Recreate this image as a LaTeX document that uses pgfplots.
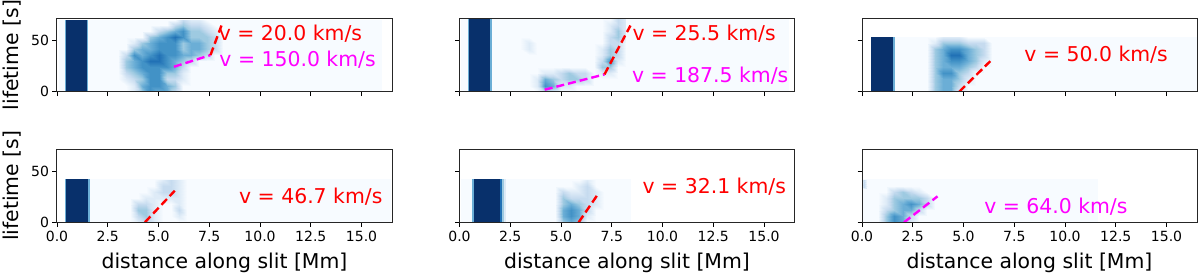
\documentclass[border=0pt]{standalone}
\usepackage{fontspec}
\setmainfont{DejaVu Sans}
\usepackage{pgfplots}
\pgfplotsset{compat=1.18}
\pgfplotsset{
  colormap={Blues}{rgb255(0)=(247,251,255) rgb255(1)=(222,235,247) rgb255(2)=(198,219,239) rgb255(3)=(158,202,225) rgb255(4)=(107,174,214) rgb255(5)=(66,146,198) rgb255(6)=(33,113,181) rgb255(7)=(8,81,156) rgb255(8)=(8,48,107)},
  pan/.style={
    scale only axis, width=335pt, height=73.3pt, anchor=south west,
    xmin=0, xmax=16.5, ymin=0, ymax=72, axis on top,
    xtick={0,2.5,5,7.5,10,12.5,15}, ytick={0,50}, tick pos=left, tick align=outside,
    major tick length=4.5pt, every tick/.style={black,line width=0.9pt},
    axis line style={line width=1pt,color=black!85},
    point meta min=0, point meta max=8,
    /pgf/number format/assume math mode=true,
    tick label style={font=\fontsize{14}{16}\selectfont},
    x tick label style={/pgf/number format/fixed,/pgf/number format/fixed zerofill,/pgf/number format/precision=1,yshift=-1pt},
    y tick label style={/pgf/number format/fixed},
    xlabel style={font=\fontsize{20.4}{23}\selectfont,at={(axis description cs:0.5,-0.56)},anchor=center},
    ylabel style={font=\fontsize{20.4}{23}\selectfont,at={(axis description cs:-0.134,0.5)},anchor=center},
  },
  hm/.style={surf,shader=interp,point meta=explicit,forget plot},
  hb/.style={surf,shader=flat mean,draw=none,point meta=explicit,forget plot},
  rl/.style={red,line width=2.4pt,dash pattern=on 8pt off 4pt,forget plot},
  ml/.style={magenta,line width=2.4pt,dash pattern=on 8pt off 4pt,forget plot},
}
\tikzset{vl/.style={font=\fontsize{20.4}{23}\selectfont,anchor=center}}
\definecolor{magenta}{RGB}{255,0,255}
\begin{document}
\begin{tikzpicture}[x=1pt,y=1pt]
\useasboundingbox (0,0) rectangle (1200,274);
% ---------- top left
\begin{axis}[pan,at={(57pt,182.3pt)},xticklabels={},ylabel={lifetime [s]}]
\addplot[hb,mesh/cols=6] table[meta=z,row sep=crcr]{x y z\\
0.1 0 0\\0.38 0 0\\0.46 0 8\\1.48 0 8\\1.56 0 0\\15.95 0 0\\
0.1 70 0\\0.38 70 0\\0.46 70 8\\1.48 70 8\\1.56 70 0\\15.95 70 0\\
};
\addplot[hm,mesh/cols=14] table[meta=z,row sep=crcr]{x y z\\
3.0 0 0\\3.4 0 0\\3.8 0 1\\4.2 0 3\\4.6 0 5\\5.0 0 4\\5.4 0 4\\5.8 0 2\\6.2 0 0\\6.6 0 0\\7.0 0 0\\7.4 0 0\\7.8 0 0\\8.2 0 0\\
3.0 6 0\\3.4 6 0\\3.8 6 1\\4.2 6 4\\4.6 6 5\\5.0 6 5\\5.4 6 4\\5.8 6 3\\6.2 6 0\\6.6 6 0\\7.0 6 0\\7.4 6 0\\7.8 6 0\\8.2 6 0\\
3.0 12 0\\3.4 12 1\\3.8 12 2\\4.2 12 3\\4.6 12 5\\5.0 12 5\\5.4 12 2\\5.8 12 2\\6.2 12 1\\6.6 12 0\\7.0 12 0\\7.4 12 0\\7.8 12 0\\8.2 12 0\\
3.0 18 0\\3.4 18 2\\3.8 18 3\\4.2 18 4\\4.6 18 5\\5.0 18 5\\5.4 18 3\\5.8 18 3\\6.2 18 1\\6.6 18 0\\7.0 18 0\\7.4 18 0\\7.8 18 0\\8.2 18 0\\
3.0 24 0\\3.4 24 3\\3.8 24 4\\4.2 24 5\\4.6 24 5\\5.0 24 5\\5.4 24 5\\5.8 24 4\\6.2 24 2\\6.6 24 0\\7.0 24 0\\7.4 24 0\\7.8 24 0\\8.2 24 0\\
3.0 30 0\\3.4 30 3\\3.8 30 4\\4.2 30 5\\4.6 30 6\\5.0 30 6\\5.4 30 5\\5.8 30 4\\6.2 30 3\\6.6 30 2\\7.0 30 0\\7.4 30 0\\7.8 30 0\\8.2 30 0\\
3.0 36 0\\3.4 36 2\\3.8 36 5\\4.2 36 4\\4.6 36 5\\5.0 36 6\\5.4 36 5\\5.8 36 5\\6.2 36 4\\6.6 36 4\\7.0 36 3\\7.4 36 2\\7.8 36 0\\8.2 36 0\\
3.0 42 0\\3.4 42 0\\3.8 42 3\\4.2 42 4\\4.6 42 4\\5.0 42 5\\5.4 42 5\\5.8 42 5\\6.2 42 3\\6.6 42 4\\7.0 42 4\\7.4 42 3\\7.8 42 2\\8.2 42 0\\
3.0 48 0\\3.4 48 0\\3.8 48 1\\4.2 48 3\\4.6 48 4\\5.0 48 5\\5.4 48 5\\5.8 48 5\\6.2 48 3\\6.6 48 4\\7.0 48 4\\7.4 48 3\\7.8 48 2\\8.2 48 0\\
3.0 54 0\\3.4 54 0\\3.8 54 0\\4.2 54 0\\4.6 54 3\\5.0 54 4\\5.4 54 5\\5.8 54 6\\6.2 54 5\\6.6 54 3\\7.0 54 3\\7.4 54 3\\7.8 54 2\\8.2 54 0\\
3.0 60 0\\3.4 60 0\\3.8 60 0\\4.2 60 0\\4.6 60 0\\5.0 60 2\\5.4 60 3\\5.8 60 4\\6.2 60 5\\6.6 60 3\\7.0 60 3\\7.4 60 2\\7.8 60 1\\8.2 60 0\\
3.0 66 0\\3.4 66 0\\3.8 66 0\\4.2 66 0\\4.6 66 0\\5.0 66 0\\5.4 66 0\\5.8 66 2\\6.2 66 3\\6.6 66 2\\7.0 66 2\\7.4 66 1\\7.8 66 0\\8.2 66 0\\
3.0 70 0\\3.4 70 0\\3.8 70 0\\4.2 70 0\\4.6 70 0\\5.0 70 0\\5.4 70 0\\5.8 70 0\\6.2 70 2\\6.6 70 1\\7.0 70 1\\7.4 70 0\\7.8 70 0\\8.2 70 0\\
};
\addplot[ml] coordinates {(5.76,24.5)(7.56,36)};
\addplot[rl] coordinates {(7.56,36)(8.1,65)};
\node[vl,red] at (axis cs:11.5,57) {v = 20.0 km/s};
\node[vl,magenta] at (axis cs:11.85,31) {v = 150.0 km/s};
\end{axis}
% ---------- top middle
\begin{axis}[pan,at={(459.5pt,182.3pt)},xticklabels={},yticklabels={}]
\addplot[hb,mesh/cols=6] table[meta=z,row sep=crcr]{x y z\\
0.1 0 0\\0.42 0 0\\0.5 0 8\\1.52 0 8\\1.6 0 0\\16.2 0 0\\
0.1 72 0\\0.42 72 0\\0.5 72 8\\1.52 72 8\\1.6 72 0\\16.2 72 0\\
};
\addplot[hm,mesh/cols=14] table[meta=z,row sep=crcr]{x y z\\
3.0 0 0\\3.4 0 0\\3.8 0 0\\4.2 0 2\\4.6 0 1\\5.0 0 0\\5.4 0 0\\5.8 0 0\\6.2 0 0\\6.6 0 0\\7.0 0 0\\7.4 0 0\\7.8 0 0\\8.2 0 0\\
3.0 6 0\\3.4 6 0\\3.8 6 1\\4.2 6 5\\4.6 6 4\\5.0 6 1\\5.4 6 1\\5.8 6 0\\6.2 6 0\\6.6 6 0\\7.0 6 0\\7.4 6 0\\7.8 6 0\\8.2 6 0\\
3.0 12 0\\3.4 12 0\\3.8 12 1\\4.2 12 4\\4.6 12 3\\5.0 12 2\\5.4 12 3\\5.8 12 3\\6.2 12 2\\6.6 12 0\\7.0 12 0\\7.4 12 0\\7.8 12 0\\8.2 12 0\\
3.0 18 0\\3.4 18 0\\3.8 18 0\\4.2 18 1\\4.6 18 1\\5.0 18 2\\5.4 18 3\\5.8 18 2\\6.2 18 2\\6.6 18 0\\7.0 18 1\\7.4 18 1\\7.8 18 0\\8.2 18 0\\
3.0 24 0\\3.4 24 0\\3.8 24 0\\4.2 24 0\\4.6 24 0\\5.0 24 0\\5.4 24 0\\5.8 24 0\\6.2 24 0\\6.6 24 0\\7.0 24 3\\7.4 24 3\\7.8 24 0\\8.2 24 0\\
3.0 30 0\\3.4 30 0\\3.8 30 0\\4.2 30 0\\4.6 30 0\\5.0 30 0\\5.4 30 0\\5.8 30 0\\6.2 30 0\\6.6 30 0\\7.0 30 2\\7.4 30 5\\7.8 30 1\\8.2 30 0\\
3.0 36 0\\3.4 36 0\\3.8 36 0\\4.2 36 0\\4.6 36 0\\5.0 36 0\\5.4 36 0\\5.8 36 0\\6.2 36 0\\6.6 36 0\\7.0 36 1\\7.4 36 3\\7.8 36 2\\8.2 36 0\\
3.0 42 0\\3.4 42 1\\3.8 42 0\\4.2 42 0\\4.6 42 0\\5.0 42 0\\5.4 42 0\\5.8 42 0\\6.2 42 0\\6.6 42 0\\7.0 42 1\\7.4 42 3\\7.8 42 2\\8.2 42 0\\
3.0 48 0\\3.4 48 1\\3.8 48 0\\4.2 48 0\\4.6 48 0\\5.0 48 0\\5.4 48 0\\5.8 48 0\\6.2 48 0\\6.6 48 0\\7.0 48 0\\7.4 48 2\\7.8 48 2\\8.2 48 0\\
3.0 54 0\\3.4 54 0\\3.8 54 0\\4.2 54 0\\4.6 54 0\\5.0 54 0\\5.4 54 0\\5.8 54 0\\6.2 54 0\\6.6 54 0\\7.0 54 0\\7.4 54 2\\7.8 54 3\\8.2 54 1\\
3.0 60 0\\3.4 60 0\\3.8 60 0\\4.2 60 0\\4.6 60 0\\5.0 60 0\\5.4 60 0\\5.8 60 0\\6.2 60 0\\6.6 60 0\\7.0 60 0\\7.4 60 1\\7.8 60 3\\8.2 60 1\\
3.0 66 0\\3.4 66 0\\3.8 66 0\\4.2 66 0\\4.6 66 0\\5.0 66 0\\5.4 66 0\\5.8 66 0\\6.2 66 0\\6.6 66 0\\7.0 66 0\\7.4 66 1\\7.8 66 2\\8.2 66 1\\
3.0 72 0\\3.4 72 0\\3.8 72 0\\4.2 72 0\\4.6 72 0\\5.0 72 0\\5.4 72 0\\5.8 72 0\\6.2 72 0\\6.6 72 0\\7.0 72 0\\7.4 72 0\\7.8 72 2\\8.2 72 1\\
};
\addplot[ml] coordinates {(4.2,2)(7.14,17)};
\addplot[rl] coordinates {(7.14,17)(8.42,65)};
\node[vl,red] at (axis cs:12.05,57) {v = 25.5 km/s};
\node[vl,magenta] at (axis cs:12.35,16) {v = 187.5 km/s};
\end{axis}
% ---------- top right
\begin{axis}[pan,at={(862pt,182.3pt)},xticklabels={},yticklabels={}]
\addplot[hb,mesh/cols=5] table[meta=z,row sep=crcr]{x y z\\
0.45 0 8\\0.5 0 8\\1.55 0 8\\1.63 0 0\\16.5 0 0\\
0.45 54 8\\0.5 54 8\\1.55 54 8\\1.63 54 0\\16.5 54 0\\
};
\addplot[hm,mesh/cols=9] table[meta=z,row sep=crcr]{x y z\\
3.2 0 0\\3.6 0 3\\4.0 0 4\\4.4 0 4\\4.8 0 1\\5.2 0 0\\5.6 0 0\\6.0 0 0\\6.4 0 0\\
3.2 6 0\\3.6 6 3\\4.0 6 4\\4.4 6 4\\4.8 6 2\\5.2 6 0\\5.6 6 0\\6.0 6 0\\6.4 6 0\\
3.2 12 0\\3.6 12 3\\4.0 12 4\\4.4 12 4\\4.8 12 3\\5.2 12 1\\5.6 12 0\\6.0 12 0\\6.4 12 0\\
3.2 18 0\\3.6 18 3\\4.0 18 5\\4.4 18 5\\4.8 18 3\\5.2 18 2\\5.6 18 0\\6.0 18 0\\6.4 18 0\\
3.2 24 0\\3.6 24 3\\4.0 24 4\\4.4 24 4\\4.8 24 4\\5.2 24 3\\5.6 24 2\\6.0 24 0\\6.4 24 0\\
3.2 30 0\\3.6 30 3\\4.0 30 4\\4.4 30 5\\4.8 30 5\\5.2 30 4\\5.6 30 3\\6.0 30 1\\6.4 30 0\\
3.2 36 0\\3.6 36 3\\4.0 36 4\\4.4 36 6\\4.8 36 6\\5.2 36 4\\5.6 36 3\\6.0 36 2\\6.4 36 0\\
3.2 42 0\\3.6 42 3\\4.0 42 4\\4.4 42 5\\4.8 42 5\\5.2 42 4\\5.6 42 3\\6.0 42 2\\6.4 42 0\\
3.2 48 0\\3.6 48 1\\4.0 48 3\\4.4 48 3\\4.8 48 3\\5.2 48 2\\5.6 48 2\\6.0 48 2\\6.4 48 0\\
3.2 54 0\\3.6 54 0\\4.0 54 1\\4.4 54 1\\4.8 54 1\\5.2 54 0\\5.6 54 0\\6.0 54 0\\6.4 54 0\\
};
\addplot[rl] coordinates {(4.79,0)(6.32,30)};
\node[vl,red] at (axis cs:11.53,36.7) {v = 50.0 km/s};
\end{axis}
% ---------- bottom left
\begin{axis}[pan,at={(57pt,51.7pt)},xlabel={distance along slit [Mm]},ylabel={lifetime [s]}]
\addplot[hb,mesh/cols=6] table[meta=z,row sep=crcr]{x y z\\
0.42 0 0\\0.47 0 8\\0.56 0 8\\1.55 0 8\\1.65 0 0\\16.4 0 0\\
0.42 42 0\\0.47 42 8\\0.56 42 8\\1.55 42 8\\1.65 42 0\\16.4 42 0\\
};
\addplot[hm,mesh/cols=8] table[meta=z,row sep=crcr]{x y z\\
3.6 0 0\\4.0 0 1\\4.4 0 2\\4.8 0 1\\5.2 0 0\\5.6 0 0\\6.0 0 0\\6.4 0 0\\
3.6 6 0\\4.0 6 2\\4.4 6 3\\4.8 6 1\\5.2 6 0\\5.6 6 0\\6.0 6 1\\6.4 6 0\\
3.6 12 0\\4.0 12 3\\4.4 12 3\\4.8 12 1\\5.2 12 0\\5.6 12 0\\6.0 12 2\\6.4 12 0\\
3.6 18 0\\4.0 18 2\\4.4 18 2\\4.8 18 1\\5.2 18 0\\5.6 18 0\\6.0 18 1\\6.4 18 0\\
3.6 24 0\\4.0 24 0\\4.4 24 1\\4.8 24 1\\5.2 24 1\\5.6 24 1\\6.0 24 1\\6.4 24 0\\
3.6 30 0\\4.0 30 0\\4.4 30 0\\4.8 30 1\\5.2 30 2\\5.6 30 2\\6.0 30 1\\6.4 30 0\\
3.6 36 0\\4.0 36 0\\4.4 36 0\\4.8 36 0\\5.2 36 2\\5.6 36 2\\6.0 36 1\\6.4 36 0\\
3.6 42 0\\4.0 42 0\\4.4 42 0\\4.8 42 0\\5.2 42 1\\5.6 42 2\\6.0 42 1\\6.4 42 0\\
};
\addplot[rl] coordinates {(4.33,0)(5.8,31)};
\node[vl,red] at (axis cs:12.5,25) {v = 46.7 km/s};
\end{axis}
% ---------- bottom middle
\begin{axis}[pan,at={(459.5pt,51.7pt)},xlabel={distance along slit [Mm]},yticklabels={}]
\addplot[hb,mesh/cols=8] table[meta=z,row sep=crcr]{x y z\\
0.1 0 0\\0.62 0 0\\0.72 0 8\\2.0 0 8\\2.12 0 4\\2.2 0 2\\2.3 0 0\\8.4 0 0\\
0.1 42 0\\0.62 42 0\\0.72 42 8\\2.0 42 8\\2.12 42 4\\2.2 42 2\\2.3 42 0\\8.4 42 0\\
};
\addplot[hm,mesh/cols=7] table[meta=z,row sep=crcr]{x y z\\
4.7 0 0\\5.1 0 3\\5.5 0 4\\5.9 0 3\\6.3 0 0\\6.7 0 0\\7.1 0 0\\
4.7 6 0\\5.1 6 4\\5.5 6 5\\5.9 6 4\\6.3 6 1\\6.7 6 0\\7.1 6 0\\
4.7 12 0\\5.1 12 4\\5.5 12 5\\5.9 12 4\\6.3 12 2\\6.7 12 0\\7.1 12 0\\
4.7 18 0\\5.1 18 3\\5.5 18 4\\5.9 18 3\\6.3 18 2\\6.7 18 1\\7.1 18 0\\
4.7 24 0\\5.1 24 3\\5.5 24 2\\5.9 24 2\\6.3 24 2\\6.7 24 1\\7.1 24 0\\
4.7 30 0\\5.1 30 2\\5.5 30 1\\5.9 30 1\\6.3 30 2\\6.7 30 1\\7.1 30 0\\
4.7 36 0\\5.1 36 0\\5.5 36 0\\5.9 36 1\\6.3 36 2\\6.7 36 0\\7.1 36 0\\
4.7 42 0\\5.1 42 0\\5.5 42 0\\5.9 42 0\\6.3 42 1\\6.7 42 0\\7.1 42 0\\
};
\addplot[rl] coordinates {(5.87,0)(6.78,26.5)};
\node[vl,red] at (axis cs:12.55,35) {v = 32.1 km/s};
\end{axis}
% ---------- bottom right
\begin{axis}[pan,at={(862pt,51.7pt)},xlabel={distance along slit [Mm]},yticklabels={}]
\addplot[hb,mesh/cols=2] table[meta=z,row sep=crcr]{x y z\\
0.0 0 0\\11.6 0 0\\
0.0 42 0\\11.6 42 0\\
};
\addplot[hm,mesh/cols=3] table[meta=z,row sep=crcr]{x y z\\
0.0 33 0\\0.12 33 0\\0.25 33 0\\
0.0 35 1\\0.12 35 2\\0.25 35 0\\
0.0 42 1\\0.12 42 2\\0.25 42 0\\
};
\addplot[hm,mesh/cols=8] table[meta=z,row sep=crcr]{x y z\\
0.8 0 0\\1.2 0 3\\1.6 0 5\\2.0 0 4\\2.4 0 1\\2.8 0 0\\3.2 0 0\\3.6 0 0\\
0.8 6 0\\1.2 6 3\\1.6 6 5\\2.0 6 4\\2.4 6 2\\2.8 6 0\\3.2 6 0\\3.6 6 0\\
0.8 12 0\\1.2 12 2\\1.6 12 3\\2.0 12 4\\2.4 12 4\\2.8 12 2\\3.2 12 0\\3.6 12 0\\
0.8 18 0\\1.2 18 1\\1.6 18 3\\2.0 18 4\\2.4 18 5\\2.8 18 4\\3.2 18 2\\3.6 18 0\\
0.8 24 0\\1.2 24 1\\1.6 24 3\\2.0 24 3\\2.4 24 3\\2.8 24 3\\3.2 24 2\\3.6 24 0\\
0.8 30 0\\1.2 30 0\\1.6 30 2\\2.0 30 3\\2.4 30 2\\2.8 30 1\\3.2 30 0\\3.6 30 0\\
0.8 36 0\\1.2 36 0\\1.6 36 0\\2.0 36 0\\2.4 36 0\\2.8 36 0\\3.2 36 0\\3.6 36 0\\
};
\addplot[ml] coordinates {(2.07,0)(3.72,25.5)};
\node[vl,magenta] at (axis cs:9.55,15.7) {v = 64.0 km/s};
\end{axis}
\end{tikzpicture}
\end{document}
